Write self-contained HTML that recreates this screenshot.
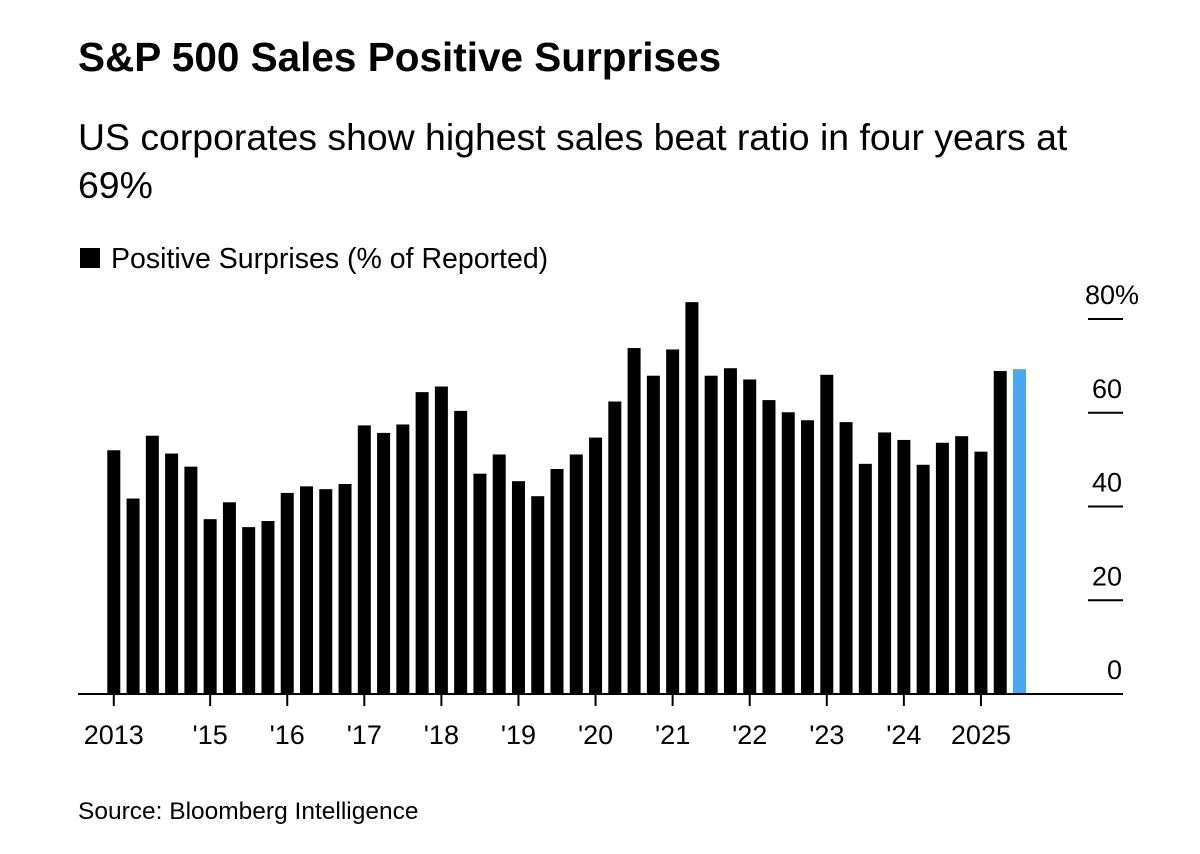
<!DOCTYPE html>
<html><head><meta charset="utf-8"><style>
body{margin:0;background:#fff;width:1200px;height:854px;overflow:hidden;font-family:"Liberation Sans",Arial,sans-serif;color:#000}
</style></head><body>
<svg width="1200" height="854" style="position:absolute;left:0;top:0">
<text x="78" y="71" font-size="40.5" font-weight="bold">S&amp;P 500 Sales Positive Surprises</text>
<text x="78" y="150" font-size="37.4">US corporates show highest sales beat ratio in four years at</text>
<text x="78" y="198" font-size="37.4">69%</text>
<rect x="80" y="248" width="20" height="20" fill="#000"/>
<text x="111" y="268" font-size="28.5">Positive Surprises (% of Reported)</text>
<text x="78" y="819" font-size="24.5">Source: Bloomberg Intelligence</text>
<g id="plot"></g>
</svg>
<script>
const values=[52.0,41.7,55.1,51.3,48.5,37.3,40.9,35.6,36.9,42.9,44.3,43.7,44.8,57.3,55.7,57.5,64.4,65.6,60.4,47.0,51.1,45.4,42.2,48.0,51.1,54.7,62.4,73.8,67.9,73.5,83.6,67.9,69.5,67.1,62.7,60.1,58.4,68.1,58.0,49.1,55.8,54.2,48.9,53.6,55.0,51.7,68.9,69.3];
const yTicks=[0,20,40,60,80];
const yTickLabels=["0","20","40","60","80%"];
const xTickIdx=[0,5,9,13,17,21,25,29,33,37,41,45];
const xTickLabels=["2013","'15","'16","'17","'18","'19","'20","'21","'22","'23","'24","2025"];
const NS="http://www.w3.org/2000/svg";
const g=document.getElementById('plot');
const y0=694,pxPer=375/80,x0=107.3,pitch=19.27,bw=13;
const yS=v=>y0-v*pxPer;
const xS=i=>x0+i*pitch;
function mk(t,a){const e=document.createElementNS(NS,t);for(const k in a)e.setAttribute(k,a[k]);g.appendChild(e);return e;}
values.forEach((v,i)=>{
  const r=mk('rect',{x:xS(i),y:yS(v),width:bw,height:y0-yS(v),fill:i===values.length-1?'#4aa8f2':'#000'});
  
  
});
yTicks.forEach((t,i)=>{
  const y=yS(t);
  if(t>0){const l=mk('line',{x1:1088,x2:1123,y1:y,y2:y,stroke:'#000','stroke-width':2});
  
  }
  const tx=mk('text',{x:i===yTicks.length-1?1085:1122,y:y-15,'font-size':27,'text-anchor':i===yTicks.length-1?'start':'end'});
  tx.textContent=yTickLabels[i];
  
  
});
const ax=mk('line',{x1:78,x2:1123,y1:y0,y2:y0,stroke:'#000','stroke-width':2});


xTickIdx.forEach((idx,i)=>{
  const x=xS(idx)+bw/2;
  const l=mk('line',{x1:x,x2:x,y1:y0,y2:y0+12,stroke:'#000','stroke-width':2});
  
  
  const tx=mk('text',{x:x,y:744,'font-size':27,'text-anchor':'middle'});
  tx.textContent=xTickLabels[i];
  
  
});
</script>
</body></html>
